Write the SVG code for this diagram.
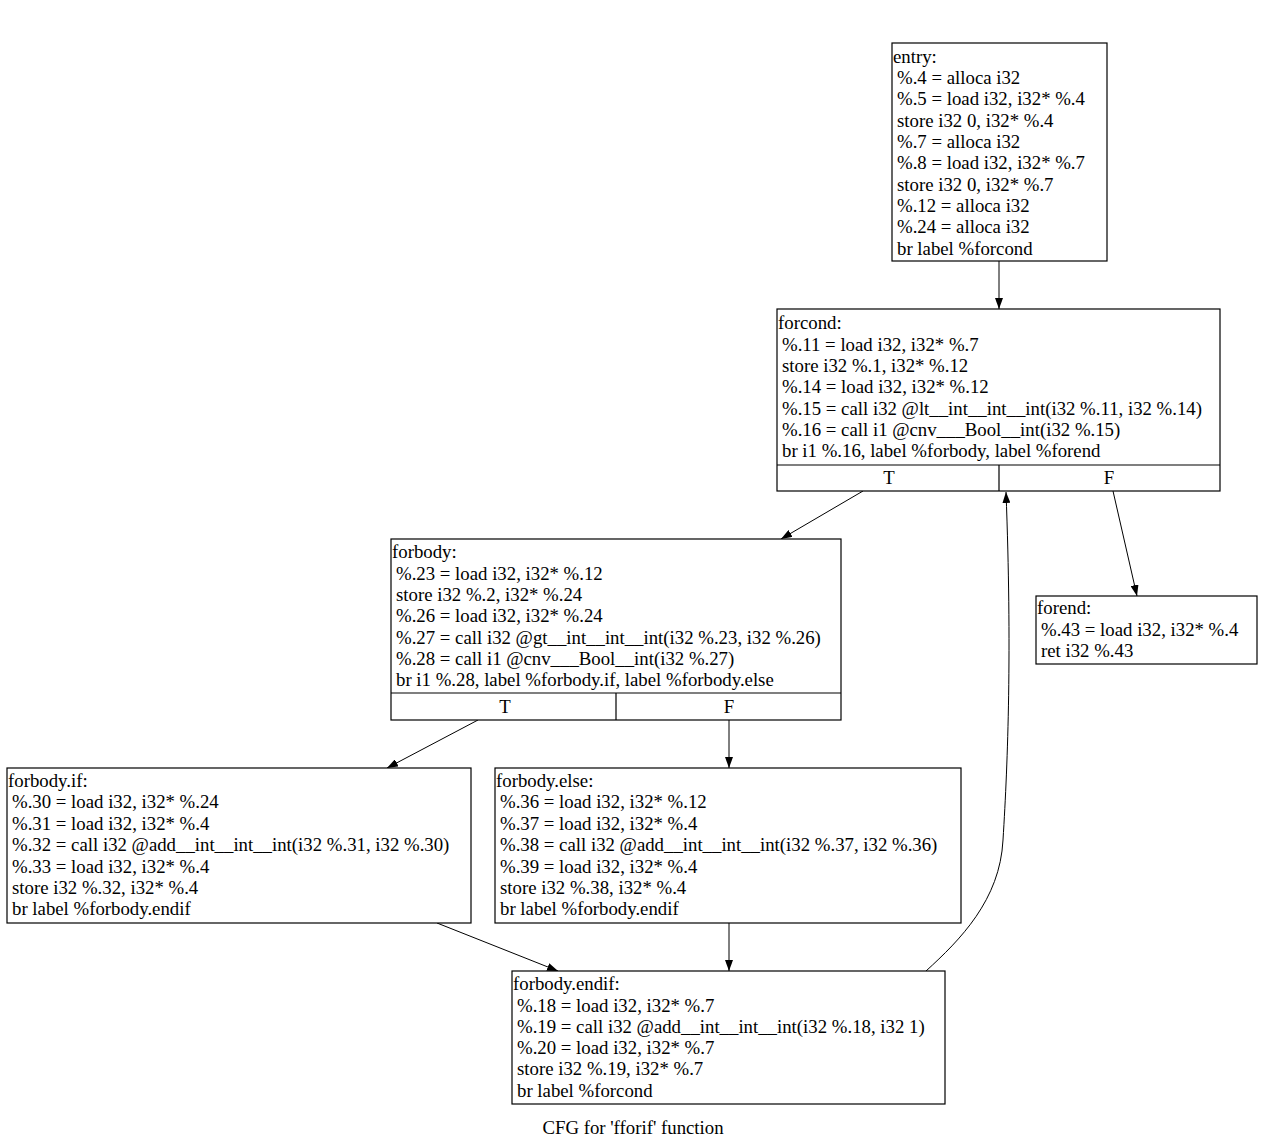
<svg xmlns="http://www.w3.org/2000/svg" width="1263" height="1148" viewBox="0 0 1263 1148">
<style>
text{font-family:"Liberation Serif","Times New Roman",serif;font-size:18.8px;fill:#000}
.box{fill:#fff;stroke:#000;stroke-width:1.2}
.ln{stroke:#000;stroke-width:1.2;fill:none}
.e{stroke:#000;stroke-width:1;fill:none;marker-end:url(#ah)}
.c{text-anchor:middle}
</style>
<defs>
<marker id="ah" viewBox="0 0 11 8" refX="11" refY="4" markerWidth="11" markerHeight="8" orient="auto" markerUnits="userSpaceOnUse"><path d="M0,0 L11,4 L0,8z" fill="#000"/></marker>
</defs>
<rect width="1263" height="1148" fill="#fff"/>
<g id="connectors">
<path class="e" d="M999,261 L999,309"/>
<path class="e" d="M863,491 L781,539"/>
<path class="e" d="M1113,491 L1137,596"/>
<path class="e" d="M478,720 L387,768"/>
<path class="e" d="M729,720 L729,768"/>
<path class="e" d="M437,923 L558,971"/>
<path class="e" d="M729,923 L729,971"/>
<path class="e" d="M926,971 C960,940 1000,900 1003,840 C1008,760 1012,650 1006,492"/>
</g>
<g id="entry">
<rect class="box" x="892" y="43" width="215" height="218"/>
<text x="893" y="63">entry:</text>
<text x="897" y="84">%.4 = alloca i32</text>
<text x="897" y="105">%.5 = load i32, i32* %.4</text>
<text x="897" y="127">store i32 0, i32* %.4</text>
<text x="897" y="148">%.7 = alloca i32</text>
<text x="897" y="169">%.8 = load i32, i32* %.7</text>
<text x="897" y="191">store i32 0, i32* %.7</text>
<text x="897" y="212">%.12 = alloca i32</text>
<text x="897" y="233">%.24 = alloca i32</text>
<text x="897" y="255">br label %forcond</text>
</g>
<g id="forcond">
<rect class="box" x="777" y="309" width="443" height="182"/>
<path class="ln" d="M777,465 H1220 M999,465 V491"/>
<text x="778" y="329">forcond:</text>
<text x="782" y="351">%.11 = load i32, i32* %.7</text>
<text x="782" y="372">store i32 %.1, i32* %.12</text>
<text x="782" y="393">%.14 = load i32, i32* %.12</text>
<text x="782" y="415">%.15 = call i32 @lt__int__int__int(i32 %.11, i32 %.14)</text>
<text x="782" y="436">%.16 = call i1 @cnv___Bool__int(i32 %.15)</text>
<text x="782" y="457">br i1 %.16, label %forbody, label %forend</text>
<text class="c" x="889" y="484">T</text>
<text class="c" x="1109" y="484">F</text>
</g>
<g id="forbody">
<rect class="box" x="391" y="539" width="450" height="181"/>
<path class="ln" d="M391,693 H841 M616,693 V720"/>
<text x="392" y="558">forbody:</text>
<text x="396" y="580">%.23 = load i32, i32* %.12</text>
<text x="396" y="601">store i32 %.2, i32* %.24</text>
<text x="396" y="622">%.26 = load i32, i32* %.24</text>
<text x="396" y="644">%.27 = call i32 @gt__int__int__int(i32 %.23, i32 %.26)</text>
<text x="396" y="665">%.28 = call i1 @cnv___Bool__int(i32 %.27)</text>
<text x="396" y="686">br i1 %.28, label %forbody.if, label %forbody.else</text>
<text class="c" x="505" y="713">T</text>
<text class="c" x="729" y="713">F</text>
</g>
<g id="forend">
<rect class="box" x="1036" y="596" width="221" height="68"/>
<text x="1037" y="614">forend:</text>
<text x="1041" y="636">%.43 = load i32, i32* %.4</text>
<text x="1041" y="657">ret i32 %.43</text>
</g>
<g id="forbody.if">
<rect class="box" x="7" y="768" width="464" height="155"/>
<text x="8" y="787">forbody.if:</text>
<text x="12" y="808">%.30 = load i32, i32* %.24</text>
<text x="12" y="830">%.31 = load i32, i32* %.4</text>
<text x="12" y="851">%.32 = call i32 @add__int__int__int(i32 %.31, i32 %.30)</text>
<text x="12" y="873">%.33 = load i32, i32* %.4</text>
<text x="12" y="894">store i32 %.32, i32* %.4</text>
<text x="12" y="915">br label %forbody.endif</text>
</g>
<g id="forbody.else">
<rect class="box" x="495" y="768" width="466" height="155"/>
<text x="496" y="787">forbody.else:</text>
<text x="500" y="808">%.36 = load i32, i32* %.12</text>
<text x="500" y="830">%.37 = load i32, i32* %.4</text>
<text x="500" y="851">%.38 = call i32 @add__int__int__int(i32 %.37, i32 %.36)</text>
<text x="500" y="873">%.39 = load i32, i32* %.4</text>
<text x="500" y="894">store i32 %.38, i32* %.4</text>
<text x="500" y="915">br label %forbody.endif</text>
</g>
<g id="forbody.endif">
<rect class="box" x="512" y="971" width="433" height="133"/>
<text x="513" y="990">forbody.endif:</text>
<text x="517" y="1012">%.18 = load i32, i32* %.7</text>
<text x="517" y="1033">%.19 = call i32 @add__int__int__int(i32 %.18, i32 1)</text>
<text x="517" y="1054">%.20 = load i32, i32* %.7</text>
<text x="517" y="1075">store i32 %.19, i32* %.7</text>
<text x="517" y="1097">br label %forcond</text>
</g>
<text class="c" x="633" y="1134">CFG for 'fforif' function</text>
</svg>
